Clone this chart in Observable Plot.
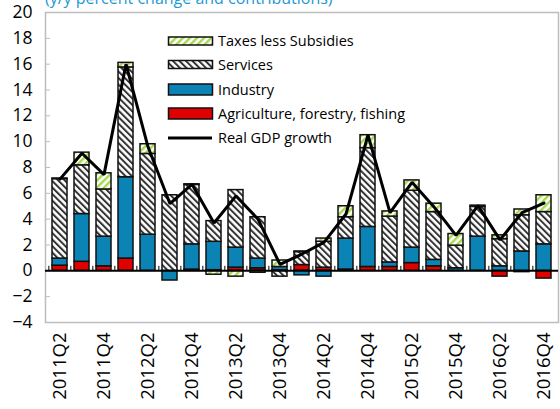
<!DOCTYPE html>
<html>
<head>
<meta charset="utf-8">
<script src="https://cdn.jsdelivr.net/npm/d3@7"></script>
<script src="https://cdn.jsdelivr.net/npm/@observablehq/plot@0.6"></script>
<style>
  html, body { margin: 0; padding: 0; background: #fff; overflow: hidden; }
  #wrap { position: relative; width: 560px; height: 409px; font-family: "Open Sans", sans-serif; }
  #title { position: absolute; left: 45px; top: -10px; font-size: 16px; line-height: 16px; color: #1e98d3; white-space: nowrap; }
</style>
</head>
<body>
<div id="wrap">
  <div id="chart"></div>
  <div id="title">(y/y percent change and contributions)</div>
</div>
<script>
const quarters = ["2011Q2","2011Q3","2011Q4","2012Q1","2012Q2","2012Q3","2012Q4","2013Q1","2013Q2","2013Q3","2013Q4","2014Q1","2014Q2","2014Q3","2014Q4","2015Q1","2015Q2","2015Q3","2015Q4","2016Q1","2016Q2","2016Q3","2016Q4"];
const agriculture = [0.40,0.70,0.35,0.95,0.00,0.00,0.10,0.05,0.25,0.20,0.05,0.45,0.25,0.10,0.30,0.30,0.60,0.35,0.00,0.00,-0.45,-0.10,-0.60];
const industry    = [0.55,3.70,2.30,6.30,2.80,-0.75,1.95,2.20,1.55,0.75,0.25,-0.35,-0.45,2.40,3.10,0.35,1.20,0.50,0.20,2.65,0.35,1.50,2.05];
const services    = [6.15,3.77,3.65,8.50,6.25,5.85,4.60,1.60,4.45,3.20,-0.45,1.00,2.00,1.65,6.10,3.55,4.40,3.70,1.75,2.30,2.10,2.80,2.50];
const taxes       = [0.05,0.98,1.25,0.35,0.75,0.00,0.05,-0.30,-0.45,-0.15,0.50,0.05,0.25,0.85,1.00,0.40,0.80,0.65,0.90,0.10,0.30,0.45,1.30];
const gdpGrowth   = [7.10,9.10,7.45,16.00,9.60,5.20,6.70,3.70,5.80,4.00,0.50,1.30,2.20,4.40,10.50,4.50,6.85,4.95,2.75,5.05,2.40,4.50,5.25];
const seriesNames = ["Agriculture, forestry, fishing","Industry","Services","Taxes less Subsidies"];
const yTicks = [-4,-2,0,2,4,6,8,10,12,14,16,18,20];
const xTickLabels = quarters.filter((d, i) => i % 2 === 0);

const seriesValues = [agriculture, industry, services, taxes];
const table = [];
seriesValues.forEach((vals, s) => vals.forEach((v, i) => table.push({quarter: quarters[i], series: seriesNames[s], value: v})));
const lineData = quarters.map((q, i) => ({quarter: q, gdp: gdpGrowth[i]}));

const fills = ["#e00000", "#0b83b4", "url(#svcHatch)", "url(#taxHatch)"];
const W = 560, H = 409, ML = 45, MR = 2, MT = 12, MB = 87;
const step = (W - ML - MR) / quarters.length;

const plot = Plot.plot({
  width: W, height: H,
  marginLeft: ML, marginRight: MR, marginTop: MT, marginBottom: MB,
  style: {fontFamily: "Open Sans, sans-serif", background: "white", color: "#000"},
  x: {type: "band", domain: quarters, paddingInner: 0.33, paddingOuter: 0.165, label: null},
  y: {domain: [-4, 20], label: null},
  color: {type: "ordinal", domain: seriesNames, range: fills},
  marks: [
    Plot.frame({stroke: "#bdbdbd", strokeWidth: 1.5}),
    Plot.axisY({ticks: yTicks, tickSize: 0, tickPadding: 13, fontSize: 17.5, label: null}),
    Plot.axisY({ticks: yTicks, tickSize: -5, tickFormat: () => "", stroke: "#bdbdbd", label: null}),
    Plot.axisX({ticks: xTickLabels, tickRotate: -90, tickSize: 0, tickPadding: 10, fontSize: 18.5, label: null}),
    Plot.barY(table, Plot.stackY({x: "quarter", y: "value", fill: "series", stroke: "#111", strokeWidth: 1.5})),
    Plot.ruleY([0], {stroke: "#000", strokeWidth: 2}),
    Plot.ruleX(quarters, {x: d => d, y1: 0, y2: 0.35, dx: -step / 2, stroke: "#000", strokeWidth: 1}),
    Plot.lineY(lineData, {x: "quarter", y: "gdp", stroke: "#000", strokeWidth: 3, strokeLinejoin: "miter"})
  ]
});

const defs = `<defs>
<pattern id="svcHatch" width="4.6" height="4.6" patternUnits="userSpaceOnUse" patternTransform="rotate(-45)">
<rect width="4.6" height="4.6" fill="#fff"/><rect width="2" height="4.6" fill="#333"/></pattern>
<pattern id="taxHatch" width="5" height="5" patternUnits="userSpaceOnUse" patternTransform="rotate(45)">
<rect width="5" height="5" fill="#fff"/><rect width="2.4" height="5" fill="#a6d84b"/></pattern>
</defs>`;
plot.insertAdjacentHTML("afterbegin", defs);

// legend inside the plot area
const svg = d3.select(plot);
const leg = svg.append("g").attr("font-family", "Open Sans, sans-serif").attr("font-size", 14.5).attr("text-anchor", "start");
const legendItems = [
  {label: "Taxes less Subsidies", fill: fills[3], h: 8, cy: 41},
  {label: "Services", fill: fills[2], h: 8, cy: 64.5},
  {label: "Industry", fill: fills[1], h: 11, cy: 89.5},
  {label: "Agriculture, forestry, fishing", fill: fills[0], h: 11, cy: 113.5},
  {label: "Real GDP growth", line: true, cy: 138}
];
legendItems.forEach(it => {
  if (it.line) {
    leg.append("line").attr("x1", 168).attr("x2", 212).attr("y1", it.cy).attr("y2", it.cy).attr("stroke", "#000").attr("stroke-width", 3);
  } else {
    leg.append("rect").attr("x", 168.5).attr("y", it.cy - it.h / 2).attr("width", 44).attr("height", it.h)
      .attr("fill", it.fill).attr("stroke", "#111").attr("stroke-width", 1.5);
  }
  leg.append("text").attr("x", 218).attr("y", it.cy).attr("dy", "0.35em").attr("text-anchor", "start").text(it.label);
});

document.getElementById("chart").appendChild(plot);
</script>
</body>
</html>
